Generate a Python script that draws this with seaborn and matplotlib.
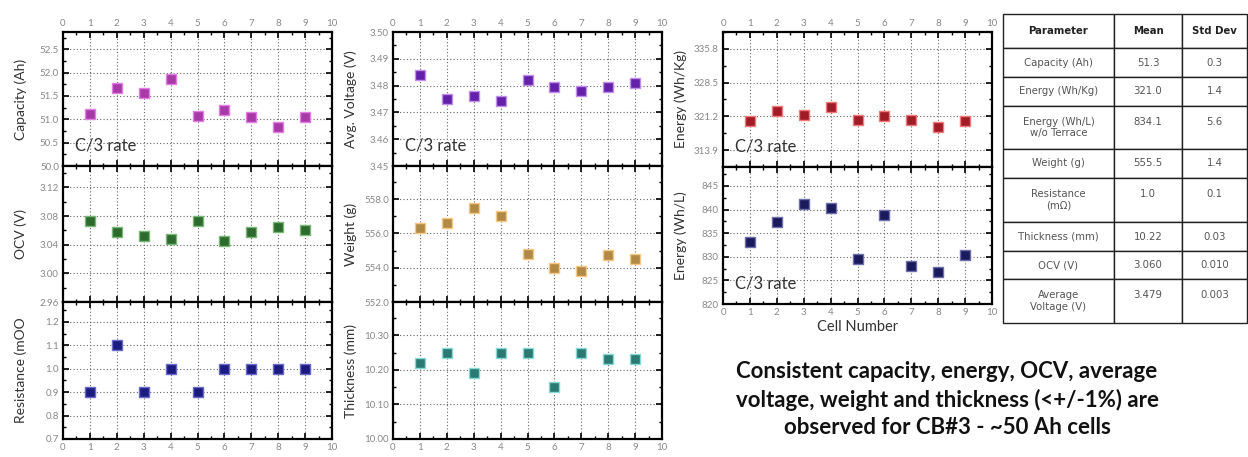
import matplotlib
matplotlib.use('Agg')
import matplotlib.pyplot as plt
import seaborn as sns
import pandas as pd
from matplotlib.ticker import MultipleLocator, FixedLocator, FormatStrFormatter

# ---------------- data ----------------
cells = [1, 2, 3, 4, 5, 6, 7, 8, 9]
capacity = [51.11, 51.68, 51.57, 51.86, 51.07, 51.19, 51.04, 50.84, 51.06]
avg_voltage = [3.4840, 3.4749, 3.4761, 3.4741, 3.4821, 3.4796, 3.4779, 3.4793, 3.4809]
ocv = [3.0735, 3.058, 3.0516, 3.048, 3.073, 3.045, 3.058, 3.065, 3.060]
weight = [556.33, 556.64, 557.46, 557.03, 554.80, 553.97, 553.80, 554.74, 554.52]
resistance = [0.9, 1.1, 0.9, 1.0, 0.9, 1.0, 1.0, 1.0, 1.0]
thickness = [10.22, 10.25, 10.19, 10.25, 10.25, 10.15, 10.25, 10.23, 10.23]
energy_wh_kg = [320.14, 322.4, 321.4, 323.3, 320.4, 321.2, 320.35, 318.9, 320.3]
energy_wh_l = [833.2, 837.4, 841.1, 840.4, 829.5, 838.9, 828.0, 826.8, 830.4]

x_ticks = [0, 1, 2, 3, 4, 5, 6, 7, 8, 9, 10]
cap_ticks = [50.0, 50.5, 51.0, 51.5, 52.0, 52.5]
avgv_ticks = [3.45, 3.46, 3.47, 3.48, 3.49, 3.50]
ocv_ticks = [2.96, 3.00, 3.04, 3.08, 3.12]
weight_ticks = [552.0, 554.0, 556.0, 558.0]
res_ticks = [0.7, 0.8, 0.9, 1.0, 1.1, 1.2]
thick_ticks = [10.00, 10.10, 10.20, 10.30]
ekg_ticks = [313.9, 321.2, 328.5, 335.8]
el_ticks = [820, 825, 830, 835, 840, 845]

table_params = ["Capacity (Ah)", "Energy (Wh/Kg)", "Energy (Wh/L)\nw/o Terrace", "Weight (g)",
                "Resistance\n(m\u03a9)", "Thickness (mm)", "OCV (V)", "Average\nVoltage (V)"]
table_means = ["51.3", "321.0", "834.1", "555.5", "1.0", "10.22", "3.060", "3.479"]
table_stds = ["0.3", "1.4", "5.6", "1.4", "0.1", "0.03", "0.010", "0.003"]
table_header = ["Parameter", "Mean", "Std Dev"]

summary_lines = ["Consistent capacity, energy, OCV, average",
                 "voltage, weight and thickness (<+/-1%) are",
                 "observed for CB#3 - ~50 Ah cells"]

# ---------------- style ----------------
sns.set_theme(style='white')
plt.rcParams['font.family'] = ['Lato', 'DejaVu Sans']

W, H = 1248, 457
fig = plt.figure(figsize=(W / 100, H / 100), dpi=100)


def rect(l, t, r, b):
    return [l / W, 1 - b / H, (r - l) / W, (b - t) / H]


panels = [
    dict(box=(63, 32, 332, 166), y=capacity, label='Capacity (Ah)', ylim=(50.0, 52.87), ticks=cap_ticks,
         fmt='%.1f', c='#a83aa8', e='#e27ee2', pos='top', note=True),
    dict(box=(63, 166, 332, 302), y=ocv, label='OCV (V)', ylim=(2.96, 3.15), ticks=ocv_ticks,
         fmt='%.2f', c='#2d6a2d', e='#77b877', pos='mid', note=False),
    dict(box=(63, 302, 332, 439), y=resistance, label='Resistance (mOO', ylim=(0.7, 1.285), ticks=res_ticks,
         fmt='%.1f', c='#1c1c80', e='#6a6ac8', pos='bottom', note=False),
    dict(box=(393, 32, 662, 166), y=avg_voltage, label='Avg. Voltage (V)', ylim=(3.45, 3.50), ticks=avgv_ticks,
         fmt='%.2f', c='#6320a8', e='#c090e8', pos='top', note=True),
    dict(box=(393, 166, 662, 302), y=weight, label='Weight (g)', ylim=(552.0, 559.94), ticks=weight_ticks,
         fmt='%.1f', c='#b08a45', e='#f5c888', pos='mid', note=False),
    dict(box=(393, 302, 662, 439), y=thickness, label='Thickness (mm)', ylim=(10.00, 10.396), ticks=thick_ticks,
         fmt='%.2f', c='#2a7a72', e='#88d8d4', pos='bottom', note=False),
    dict(box=(723, 32, 992, 167), y=energy_wh_kg, label='Energy (Wh/Kg)', ylim=(310.25, 339.45), ticks=ekg_ticks,
         fmt='%.1f', c='#a01c28', e='#f07a7a', pos='top', note=True),
    dict(box=(723, 167, 992, 304), y=energy_wh_l, label='Energy (Wh/L)', ylim=(820, 849), ticks=el_ticks,
         fmt='%.0f', c='#1a1a5c', e='#6e6eaa', pos='bottom', note=True),
]

for p in panels:
    ax = fig.add_axes(rect(*p['box']))
    df = pd.DataFrame({'cell': cells, 'val': p['y']})
    sns.scatterplot(data=df, x='cell', y='val', ax=ax, marker='s', s=50, color=p['c'],
                    edgecolor=p['e'], linewidth=1.0, zorder=5)
    ax.set_xlim(0, 10)
    ax.set_ylim(*p['ylim'])
    ax.xaxis.set_major_locator(FixedLocator(x_ticks))
    ax.xaxis.set_minor_locator(MultipleLocator(0.5))
    ax.yaxis.set_major_locator(FixedLocator(p['ticks']))
    step = p['ticks'][1] - p['ticks'][0]
    ax.yaxis.set_minor_locator(MultipleLocator(step / 2))
    ax.yaxis.set_major_formatter(FormatStrFormatter(p['fmt']))
    ax.grid(True, which='major', linestyle=(0, (1, 2)), color='#666666', linewidth=0.8)
    for sp in ax.spines.values():
        sp.set_visible(True)
        sp.set_color('black')
        sp.set_linewidth(1.6)
    ax.tick_params(which='both', direction='in', top=True, bottom=True, left=True, right=True,
                   color='black', labelcolor='#888888', labelsize=7, pad=3)
    ax.tick_params(which='major', length=4, width=1.2)
    ax.tick_params(which='minor', length=2.5, width=1.0)
    if p['pos'] == 'top':
        ax.tick_params(labeltop=True, labelbottom=False)
    elif p['pos'] == 'mid':
        ax.tick_params(labeltop=False, labelbottom=False)
    else:
        ax.tick_params(labeltop=False, labelbottom=True)
    ax.set_ylabel(p['label'], fontsize=10, color='#333333')
    ax.yaxis.set_label_coords(-0.135, 0.5)
    ax.set_xlabel('')
    if p['box'][0] == 723 and p['pos'] == 'bottom':
        ax.set_xlabel('Cell Number', fontsize=10.5, color='#333333', labelpad=2)
    if p['note']:
        ax.text(0.045, 0.15, 'C/3 rate', transform=ax.transAxes, fontsize=12,
                color='#333333', ha='left', va='center', zorder=6)

# ---------------- table ----------------
tax = fig.add_axes(rect(1003, 14, 1247, 323))
tax.axis('off')
cell_text = [[p, m + ('\n ' if '\n' in p else ''), s + ('\n ' if '\n' in p else '')]
             for p, m, s in zip(table_params, table_means, table_stds)]
tbl = tax.table(cellText=cell_text, colLabels=table_header, cellLoc='center',
                bbox=[0, 0, 1, 1])
tbl.auto_set_font_size(False)
row_h = [34, 29, 29, 43, 29, 44, 29, 28, 44]
col_w = [111, 68, 65]
for (r, c), cell in tbl.get_celld().items():
    cell.set_height(row_h[r])
    cell.set_width(col_w[c])
    cell.set_edgecolor('#222222')
    cell.set_linewidth(1.0)
    t = cell.get_text()
    t.set_fontfamily(['DejaVu Sans'])
    t.set_fontsize(7.3)
    t.set_color('#222222' if r == 0 else '#555555')
    if r == 0:
        t.set_fontweight('bold')

# ---------------- summary text ----------------
for txt, yy in zip(summary_lines, [372, 400, 428]):
    fig.text(947 / W, 1 - yy / H, txt, ha='center', va='center', fontsize=16,
             fontweight='bold', color='#111111')

fig.savefig('out.png', dpi=100)
